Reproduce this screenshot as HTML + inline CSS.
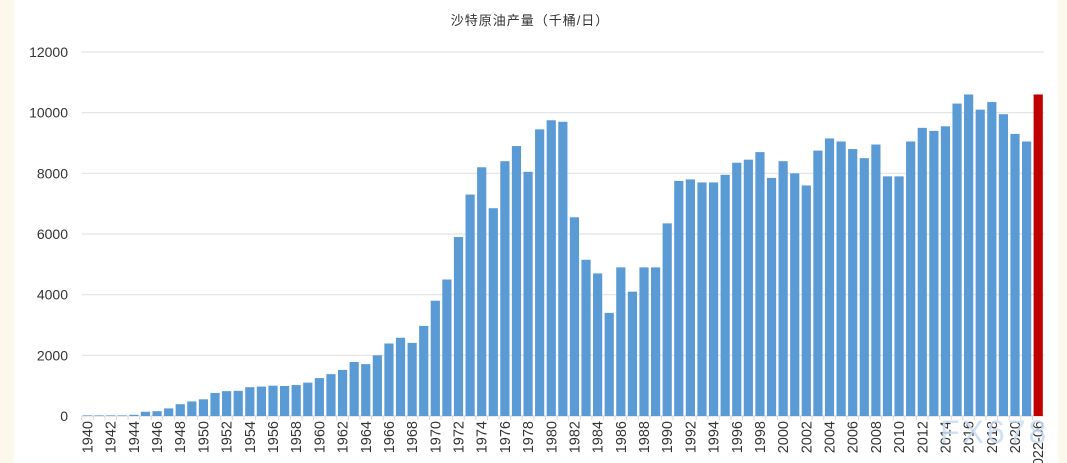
<!DOCTYPE html>
<html><head><meta charset="utf-8"><style>
body{margin:0;background:#fff;}
svg{display:block;font-family:"Liberation Sans","Noto Sans CJK SC",sans-serif;}
</style></head><body>
<svg width="1067" height="463" viewBox="0 0 1067 463">
<rect x="0" y="0" width="14" height="463" fill="#fdf8ec"/>
<rect x="1058" y="0" width="9" height="463" fill="#fdf8ec"/>
<text x="530" y="25" text-anchor="middle" font-size="13" fill="#333" letter-spacing="1">沙特原油产量（千桶/日）</text>
<g id="grid"></g><g id="bars"></g><g id="xl"></g>
<text x="940" y="443" font-size="32" fill="#c9dcf2" opacity="0.85" letter-spacing="3">FX678</text>
</svg>
<script>
const categories=[];for(let y=1940;y<=2021;y++)categories.push(String(y));categories.push("2022-06");
const values=[20,20,20,20,40,140,160,250,390,480,550,760,820,830,950,970,1000,990,1020,1100,1250,1380,1520,1780,1710,2000,2390,2580,2410,2970,3800,4500,5900,7300,8200,6850,8400,8900,8050,9450,9750,9700,6550,5150,4700,3400,4900,4100,4900,4900,6350,7750,7800,7700,7700,7950,8350,8450,8700,7850,8400,8000,7600,8750,9150,9050,8800,8500,8950,7900,7900,9050,9500,9400,9550,10300,10600,10100,10350,9950,9300,9050,10600];
const yTicks=[0,2000,4000,6000,8000,10000,12000];
const NS="http://www.w3.org/2000/svg";
const x0=81.7,x1=1044,y0=416,yTop=52,yMax=12000;
const bw=(x1-x0)/categories.length;
const ys=v=>y0-(v/yMax)*(y0-yTop);
const xs=i=>x0+bw*(i+0.5);
const g=document.getElementById('grid'),b=document.getElementById('bars'),xl=document.getElementById('xl');
function mk(t,a,p){const e=document.createElementNS(NS,t);for(const k in a)e.setAttribute(k,a[k]);p.appendChild(e);return e;}
yTicks.forEach(v=>{
 const l=mk('line',{x1:x0,x2:x1,y1:ys(v),y2:ys(v),stroke:'#e3e3e3','stroke-width':1.2},g);
 
 
 const t=mk('text',{x:68,y:ys(v)+5,'text-anchor':'end','font-size':14,fill:'#333'},g);
 t.textContent=v;
 
 
});
values.forEach((v,i)=>{
 const last=i===values.length-1;
 const r=mk('rect',{x:xs(i)-4.6,y:ys(v),width:9.2,height:y0-ys(v),fill:last?'#c00000':'#5b9bd5'},b);
 
 
 if(i%2===0||last){
  const t=mk('text',{transform:`translate(${xs(i)+5},421) rotate(-90)`,'text-anchor':'end','font-size':14.5,fill:'#333'},xl);
  t.textContent=categories[i];
  
  
 }
 const tk=mk('line',{x1:x0+bw*i,x2:x0+bw*i,y1:y0,y2:y0+4,stroke:'#d9d9d9'},xl);
 
 
});
const ax=mk('line',{x1:x0,x2:x1,y1:y0,y2:y0,stroke:'#d9d9d9'},g);


</script>
</body></html>
